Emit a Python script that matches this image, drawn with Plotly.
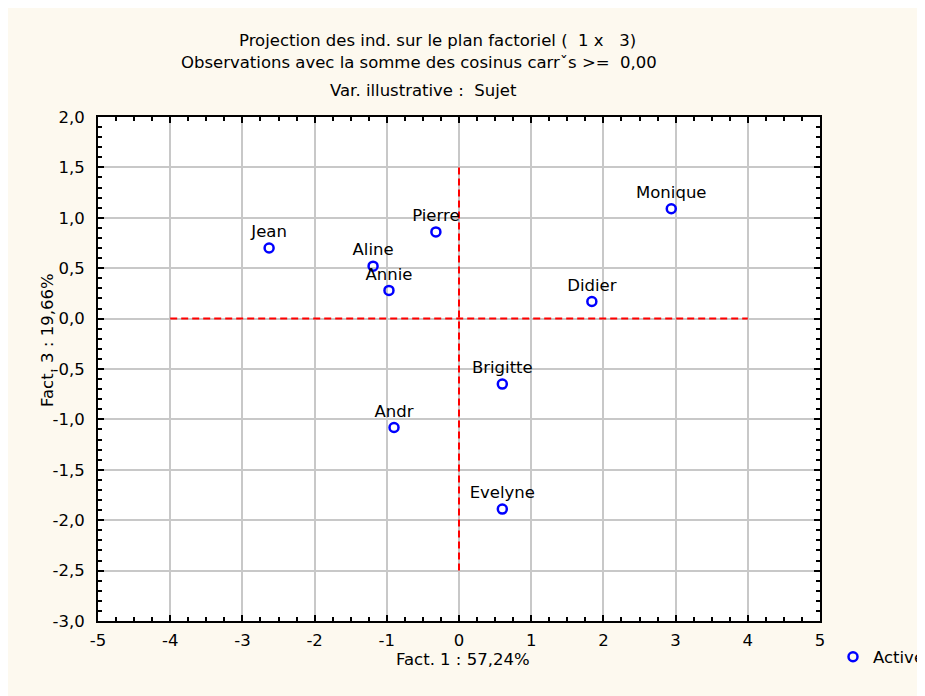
import plotly.graph_objects as go

names = ["Jean", "Aline", "Annie", "Pierre", "Monique", "Didier", "Brigitte", "Andr", "Evelyne"]
fact1 = [-2.63, -1.19, -0.97, -0.32, 2.94, 1.84, 0.60, -0.90, 0.60]
fact3 = [0.70, 0.52, 0.28, 0.86, 1.09, 0.17, -0.65, -1.08, -1.89]

x_ticks = [-5, -4, -3, -2, -1, 0, 1, 2, 3, 4, 5]
y_ticks = [2.0, 1.5, 1.0, 0.5, 0.0, -0.5, -1.0, -1.5, -2.0, -2.5, -3.0]
y_labels = ["2,0", "1,5", "1,0", "0,5", "0,0", "-0,5", "-1,0", "-1,5", "-2,0", "-2,5", "-3,0"]

hline_x = [-4, 4]
hline_y = [0, 0]
vline_x = [0, 0]
vline_y = [-2.5, 1.5]

font = "DejaVu Sans, Liberation Sans, Arial, sans-serif"
fs = 16.5
bg = "#FDF9EF"

fig = go.Figure()
fig.add_trace(go.Scatter(x=hline_x, y=hline_y, mode="lines",
                         line=dict(color="#FF0000", width=2, dash="7px,4px"),
                         showlegend=False, hoverinfo="skip"))
fig.add_trace(go.Scatter(x=vline_x, y=vline_y, mode="lines",
                         line=dict(color="#FF0000", width=2, dash="7px,4px"),
                         showlegend=False, hoverinfo="skip"))
fig.add_trace(go.Scatter(x=fact1, y=fact3, mode="markers+text", text=names,
                         textposition="top center",
                         textfont=dict(family=font, size=fs, color="black"),
                         marker=dict(symbol="circle-open", size=9, color="#0000FF",
                                     line=dict(width=2.5, color="#0000FF")),
                         name="Active", showlegend=True))

axis_common = dict(showline=True, linecolor="black", linewidth=2, mirror="ticks",
                   ticks="inside", ticklen=6, tickwidth=2, tickcolor="black",
                   showgrid=True, gridcolor="#C8C8C8", gridwidth=1.5,
                   zeroline=False, tickfont=dict(family=font, size=fs, color="black"))

fig.update_xaxes(range=[-5, 5], tickvals=x_ticks, ticktext=[str(v) for v in x_ticks],
                 minor=dict(dtick=0.25, ticks="inside", ticklen=4, tickwidth=2,
                            tickcolor="black", showgrid=False),
                 ticklabelstandoff=3,
                 **axis_common)
fig.update_yaxes(range=[-3, 2], tickvals=y_ticks, ticktext=y_labels,
                 minor=dict(dtick=0.1, ticks="inside", ticklen=4, tickwidth=2,
                            tickcolor="black", showgrid=False),
                 ticklabelstandoff=8,
                 **axis_common)

# positions in reference-picture pixels; plot area spans x 98..820, y 117..621
anns = [
    dict(text="Projection des ind. sur le plan factoriel (  1 x   3)", x=437, y=40),
    dict(text="Observations avec la somme des cosinus carrˇs >=  0,00", x=419, y=63),
    dict(text="Var. illustrative :  Sujet", x=423, y=91),
]
annotations = []
for a in anns:
    annotations.append(dict(text=a["text"], xref="paper", yref="paper",
                            x=(a["x"] - 98) / 722, y=(621 - a["y"]) / 504,
                            xanchor="center", yanchor="middle", showarrow=False,
                            font=dict(family=font, size=fs, color="black")))
annotations.append(dict(text="Fact. 1 : 57,24%", xref="paper", yref="paper",
                        x=(463 - 98) / 722, y=(621 - 659) / 504, xanchor="center",
                        yanchor="middle", showarrow=False,
                        font=dict(family=font, size=fs, color="black")))
annotations.append(dict(text="Fact. 3 : 19,66%", xref="paper", yref="paper",
                        x=(47 - 98) / 722, y=(621 - 340) / 504, xanchor="center",
                        yanchor="middle", textangle=-90, showarrow=False,
                        font=dict(family=font, size=fs, color="black")))

fig.update_layout(
    width=917, height=688,
    margin=dict(l=90, r=105, t=109, b=75, autoexpand=False),
    paper_bgcolor=bg, plot_bgcolor="white",
    font=dict(family=font, size=fs, color="black"),
    annotations=annotations,
    legend=dict(x=(833 - 98) / 722, y=(621 - 657) / 504, xanchor="left", yanchor="middle",
                bgcolor="rgba(0,0,0,0)", font=dict(family=font, size=fs, color="black"),
                itemwidth=30),
)

fig.write_html("out.html")
